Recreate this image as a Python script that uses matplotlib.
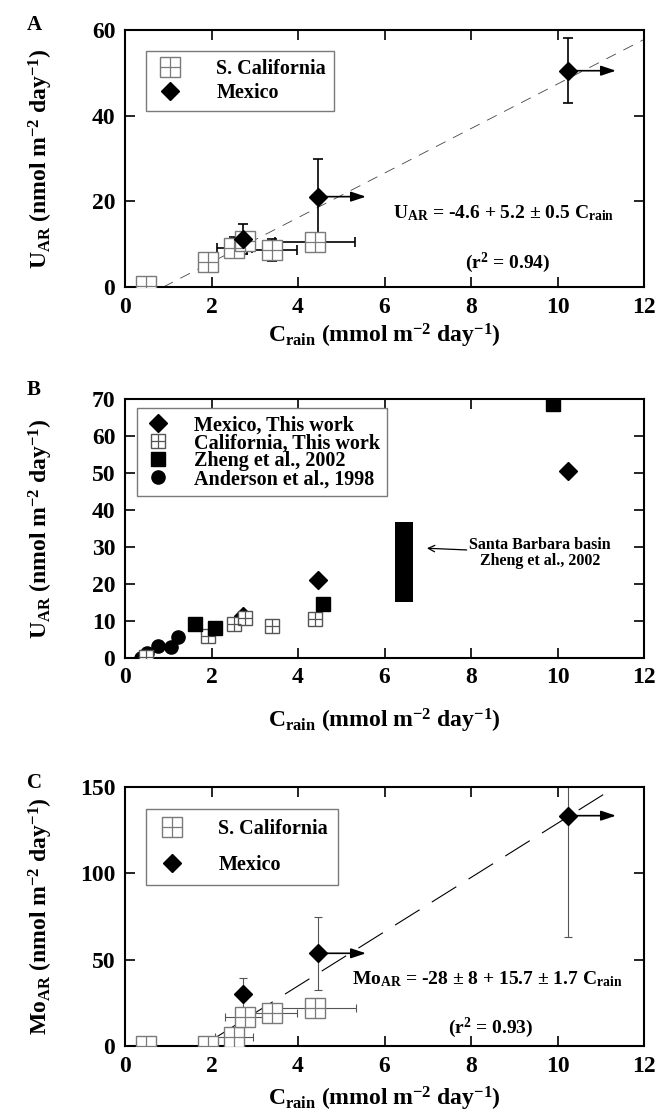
import matplotlib

matplotlib.use("Agg")
import matplotlib.pyplot as plt

plt.rcParams["font.family"] = ["Liberation Serif", "DejaVu Serif"]
plt.rcParams["font.weight"] = "bold"
plt.rcParams["axes.labelweight"] = "bold"
plt.rcParams["mathtext.fontset"] = "custom"
plt.rcParams["mathtext.rm"] = "Liberation Serif:bold"
plt.rcParams["mathtext.it"] = "Liberation Serif:bold"
plt.rcParams["mathtext.bf"] = "Liberation Serif:bold"

# ---- data ----
# S. California (this work), shared x for all panels
socal_x = [0.49, 1.91, 2.53, 2.77, 3.40, 4.39]
socal_u = [0.2, 5.9, 9.2, 10.8, 8.6, 10.5]
socal_u_xerr = [0, 0, 0.40, 0, 0.57, 0.93]
socal_u_yerr = [0, 0, 2.5, 0, 2.6, 0]
socal_mo = [0.0, 0.0, 5.4, 17.0, 18.9, 21.8]
socal_mo_xerr = [0, 0, 0.44, 0.45, 0.58, 0.95]

# Mexico (this work)
mex_x = [2.72, 4.47, 10.25]
mex_u = [11.2, 21.1, 50.5]
mex_u_yerr = [3.5, 8.7, 7.6]
mex_mo = [30.1, 53.7, 133.4]
mex_mo_yerr = [9.1, 21.0, 70.0]
mex_arrow_len = 1.1   # lower limits on C_rain for two Mexico sites
mex_arrow_idx = [1, 2]

# literature (panel B)
zheng_x = [1.62, 2.07, 4.58, 9.90]
zheng_u = [9.0, 8.1, 14.5, 68.8]
anderson_x = [0.37, 0.50, 0.77, 1.06, 1.23]
anderson_u = [0.0, 1.1, 3.1, 2.9, 5.6]
sbb_x = [6.25, 6.65]
sbb_u = [15.1, 36.8]

# regressions
u_fit = (-4.6, 5.2)
mo_fit = (-28.0, 15.7)

TICK_FS = 17
LABEL_FS = 17
TEXT_FS = 14
LEG_FS = 14.5
GRAY = "#7a7a7a"

XLABEL = r"C$_{\mathrm{rain}}$ (mmol m$^{\mathrm{-2}}$ day$^{\mathrm{-1}}$)"


def style_axes(ax, ymax, ystep):
    ax.set_xlim(0, 12)
    ax.set_ylim(0, ymax)
    ax.set_xticks(range(0, 13, 2))
    ax.set_yticks(range(0, ymax + 1, ystep))
    ax.tick_params(direction="in", length=7, width=1.2, top=True, right=True,
                   labelsize=TICK_FS, pad=7)
    for s in ax.spines.values():
        s.set_linewidth(1.5)
    for lab in ax.get_xticklabels() + ax.get_yticklabels():
        lab.set_fontweight("bold")


def set_labels(ax, ylabel, xlab_y):
    ax.set_ylabel(ylabel, fontsize=LABEL_FS)
    ax.set_xlabel(XLABEL, fontsize=LABEL_FS)
    ax.yaxis.set_label_coords(-0.135, 0.5)
    ax.xaxis.set_label_coords(0.5, xlab_y)


def socal_markers(ax, x, y, ms, color=GRAY):
    sq, = ax.plot(x, y, "s", ms=ms, mfc="white", mec=color, mew=1.0,
                  linestyle="none", zorder=4)
    pl, = ax.plot(x, y, "+", ms=ms, mec=color, mew=0.9, linestyle="none", zorder=5)
    return sq, pl


def mexico_arrows(ax, yvals):
    for i in mex_arrow_idx:
        ax.annotate("", xy=(mex_x[i] + mex_arrow_len, yvals[i]), xytext=(mex_x[i], yvals[i]),
                    arrowprops=dict(arrowstyle="-|>,head_length=0.9,head_width=0.3",
                                    lw=1.2, color="k", shrinkA=0, shrinkB=0), zorder=3)


fig = plt.figure(figsize=(6.58, 11.16), dpi=100)
L, W = 0.19, 0.7888
axA = fig.add_axes([L, 0.7428, W, 0.2303])
axB = fig.add_axes([L, 0.4108, W, 0.2316])
axC = fig.add_axes([L, 0.0627, W, 0.2321])

# ---------------- panel A ----------------
ax = axA
xs = [-u_fit[0] / u_fit[1], 12]
ax.plot(xs, [u_fit[0] + u_fit[1] * v for v in xs], color="#444444", lw=0.6,
        dashes=(13, 10), zorder=1)
ax.errorbar(socal_x, socal_u, xerr=socal_u_xerr, yerr=socal_u_yerr, fmt="none",
            ecolor="k", elinewidth=1.2, capsize=3.5, capthick=1.2, zorder=2)
ax.errorbar(mex_x, mex_u, yerr=mex_u_yerr, fmt="none", ecolor="k", elinewidth=1.2,
            capsize=3.5, capthick=1.2, zorder=2)
mexico_arrows(ax, mex_u)
sqA = socal_markers(ax, socal_x, socal_u, 14)
diA, = ax.plot(mex_x, mex_u, "D", ms=9.5, color="k", linestyle="none", zorder=6)
style_axes(ax, 60, 20)
leg = ax.legend([sqA, diA], ["S. California", "Mexico"], loc="upper left",
                bbox_to_anchor=(0.04, 0.92), fontsize=LEG_FS, frameon=True,
                fancybox=False, edgecolor=GRAY, framealpha=1, borderpad=0.4,
                labelspacing=0.22, handlelength=1.6, handletextpad=1.5, borderaxespad=0)
leg.get_frame().set_linewidth(1.0)
ax.text(6.2, 17.3, r"U$_{\mathrm{AR}}$ = -4.6 + 5.2 ± 0.5 C$_{\mathrm{rain}}$",
        fontsize=TEXT_FS, va="center", ha="left")
ax.text(8.85, 5.6, r"(r$^{\mathrm{2}}$ = 0.94)", fontsize=TEXT_FS, va="center", ha="center")
set_labels(ax, r"U$_{\mathrm{AR}}$ (nmol m$^{\mathrm{-2}}$ day$^{\mathrm{-1}}$)", -0.135)

# ---------------- panel B ----------------
ax = axB
ax.fill_between(sbb_x, sbb_u[0], sbb_u[1], color="k", lw=0, zorder=2)
ax.annotate("Santa Barbara basin\nZheng et al., 2002", xy=(6.98, 29.6), xytext=(9.6, 28.3),
            fontsize=11.5, ha="center", va="center", linespacing=1.0,
            arrowprops=dict(arrowstyle="->", lw=0.9, color="k", shrinkA=58, shrinkB=0))
anB, = ax.plot(anderson_x, anderson_u, "o", ms=9.5, color="k", linestyle="none", zorder=3)
sqB = socal_markers(ax, socal_x, socal_u, 10, color="#555555")
zhB, = ax.plot(zheng_x, zheng_u, "s", ms=10, color="k", linestyle="none", zorder=6)
diB, = ax.plot(mex_x, mex_u, "D", ms=9, color="k", linestyle="none", zorder=3)
style_axes(ax, 70, 10)
leg = ax.legend([diB, sqB, zhB, anB],
                ["Mexico, This work", "California, This work", "Zheng et al., 2002",
                 "Anderson et al., 1998"],
                loc="upper left", bbox_to_anchor=(0.023, 0.965), fontsize=LEG_FS,
                frameon=True, fancybox=False, edgecolor=GRAY, framealpha=1, borderpad=0.35,
                labelspacing=-0.1, handlelength=1.4, handletextpad=1.1, borderaxespad=0)
leg.get_frame().set_linewidth(1.0)
set_labels(ax, r"U$_{\mathrm{AR}}$ (nmol m$^{\mathrm{-2}}$ day$^{\mathrm{-1}}$)", -0.19)

# ---------------- panel C ----------------
ax = axC
xs = [2.0, 12]
ax.plot(xs, [mo_fit[0] + mo_fit[1] * v for v in xs], color="k", lw=0.8,
        dashes=(26, 13), zorder=1)
ax.errorbar(socal_x, socal_mo, xerr=socal_mo_xerr, fmt="none", ecolor="#555555",
            elinewidth=0.8, capsize=3, capthick=0.8, zorder=2)
ax.errorbar(mex_x, mex_mo, yerr=mex_mo_yerr, fmt="none", ecolor="#555555",
            elinewidth=0.8, capsize=3, capthick=0.8, zorder=2)
mexico_arrows(ax, mex_mo)
sqC = socal_markers(ax, socal_x, socal_mo, 14)
diC, = ax.plot(mex_x, mex_mo, "D", ms=9.5, color="k", linestyle="none", zorder=6)
style_axes(ax, 150, 50)
leg = ax.legend([sqC, diC], ["S. California", "Mexico"], loc="upper left",
                bbox_to_anchor=(0.04, 0.915), fontsize=LEG_FS, frameon=True,
                fancybox=False, edgecolor=GRAY, framealpha=1, borderpad=0.5,
                labelspacing=0.8, handlelength=1.6, handletextpad=1.5, borderaxespad=0)
leg.get_frame().set_linewidth(1.0)
ax.text(5.25, 38.8,
        r"Mo$_{\mathrm{AR}}$ = -28 ± 8 + 15.7 ± 1.7 C$_{\mathrm{rain}}$",
        fontsize=TEXT_FS, va="center", ha="left")
ax.text(8.45, 10.3, r"(r$^{\mathrm{2}}$ = 0.93)", fontsize=TEXT_FS, va="center", ha="center")
set_labels(ax, r"Mo$_{\mathrm{AR}}$ (nmol m$^{\mathrm{-2}}$ day$^{\mathrm{-1}}$)", -0.15)

for lab, ypix in zip(["A", "B", "C"], [25, 390, 783]):
    fig.text(34 / 658, 1 - ypix / 1116, lab, fontsize=15, fontweight="bold",
             ha="center", va="center")

fig.savefig("out.png", dpi=100)
